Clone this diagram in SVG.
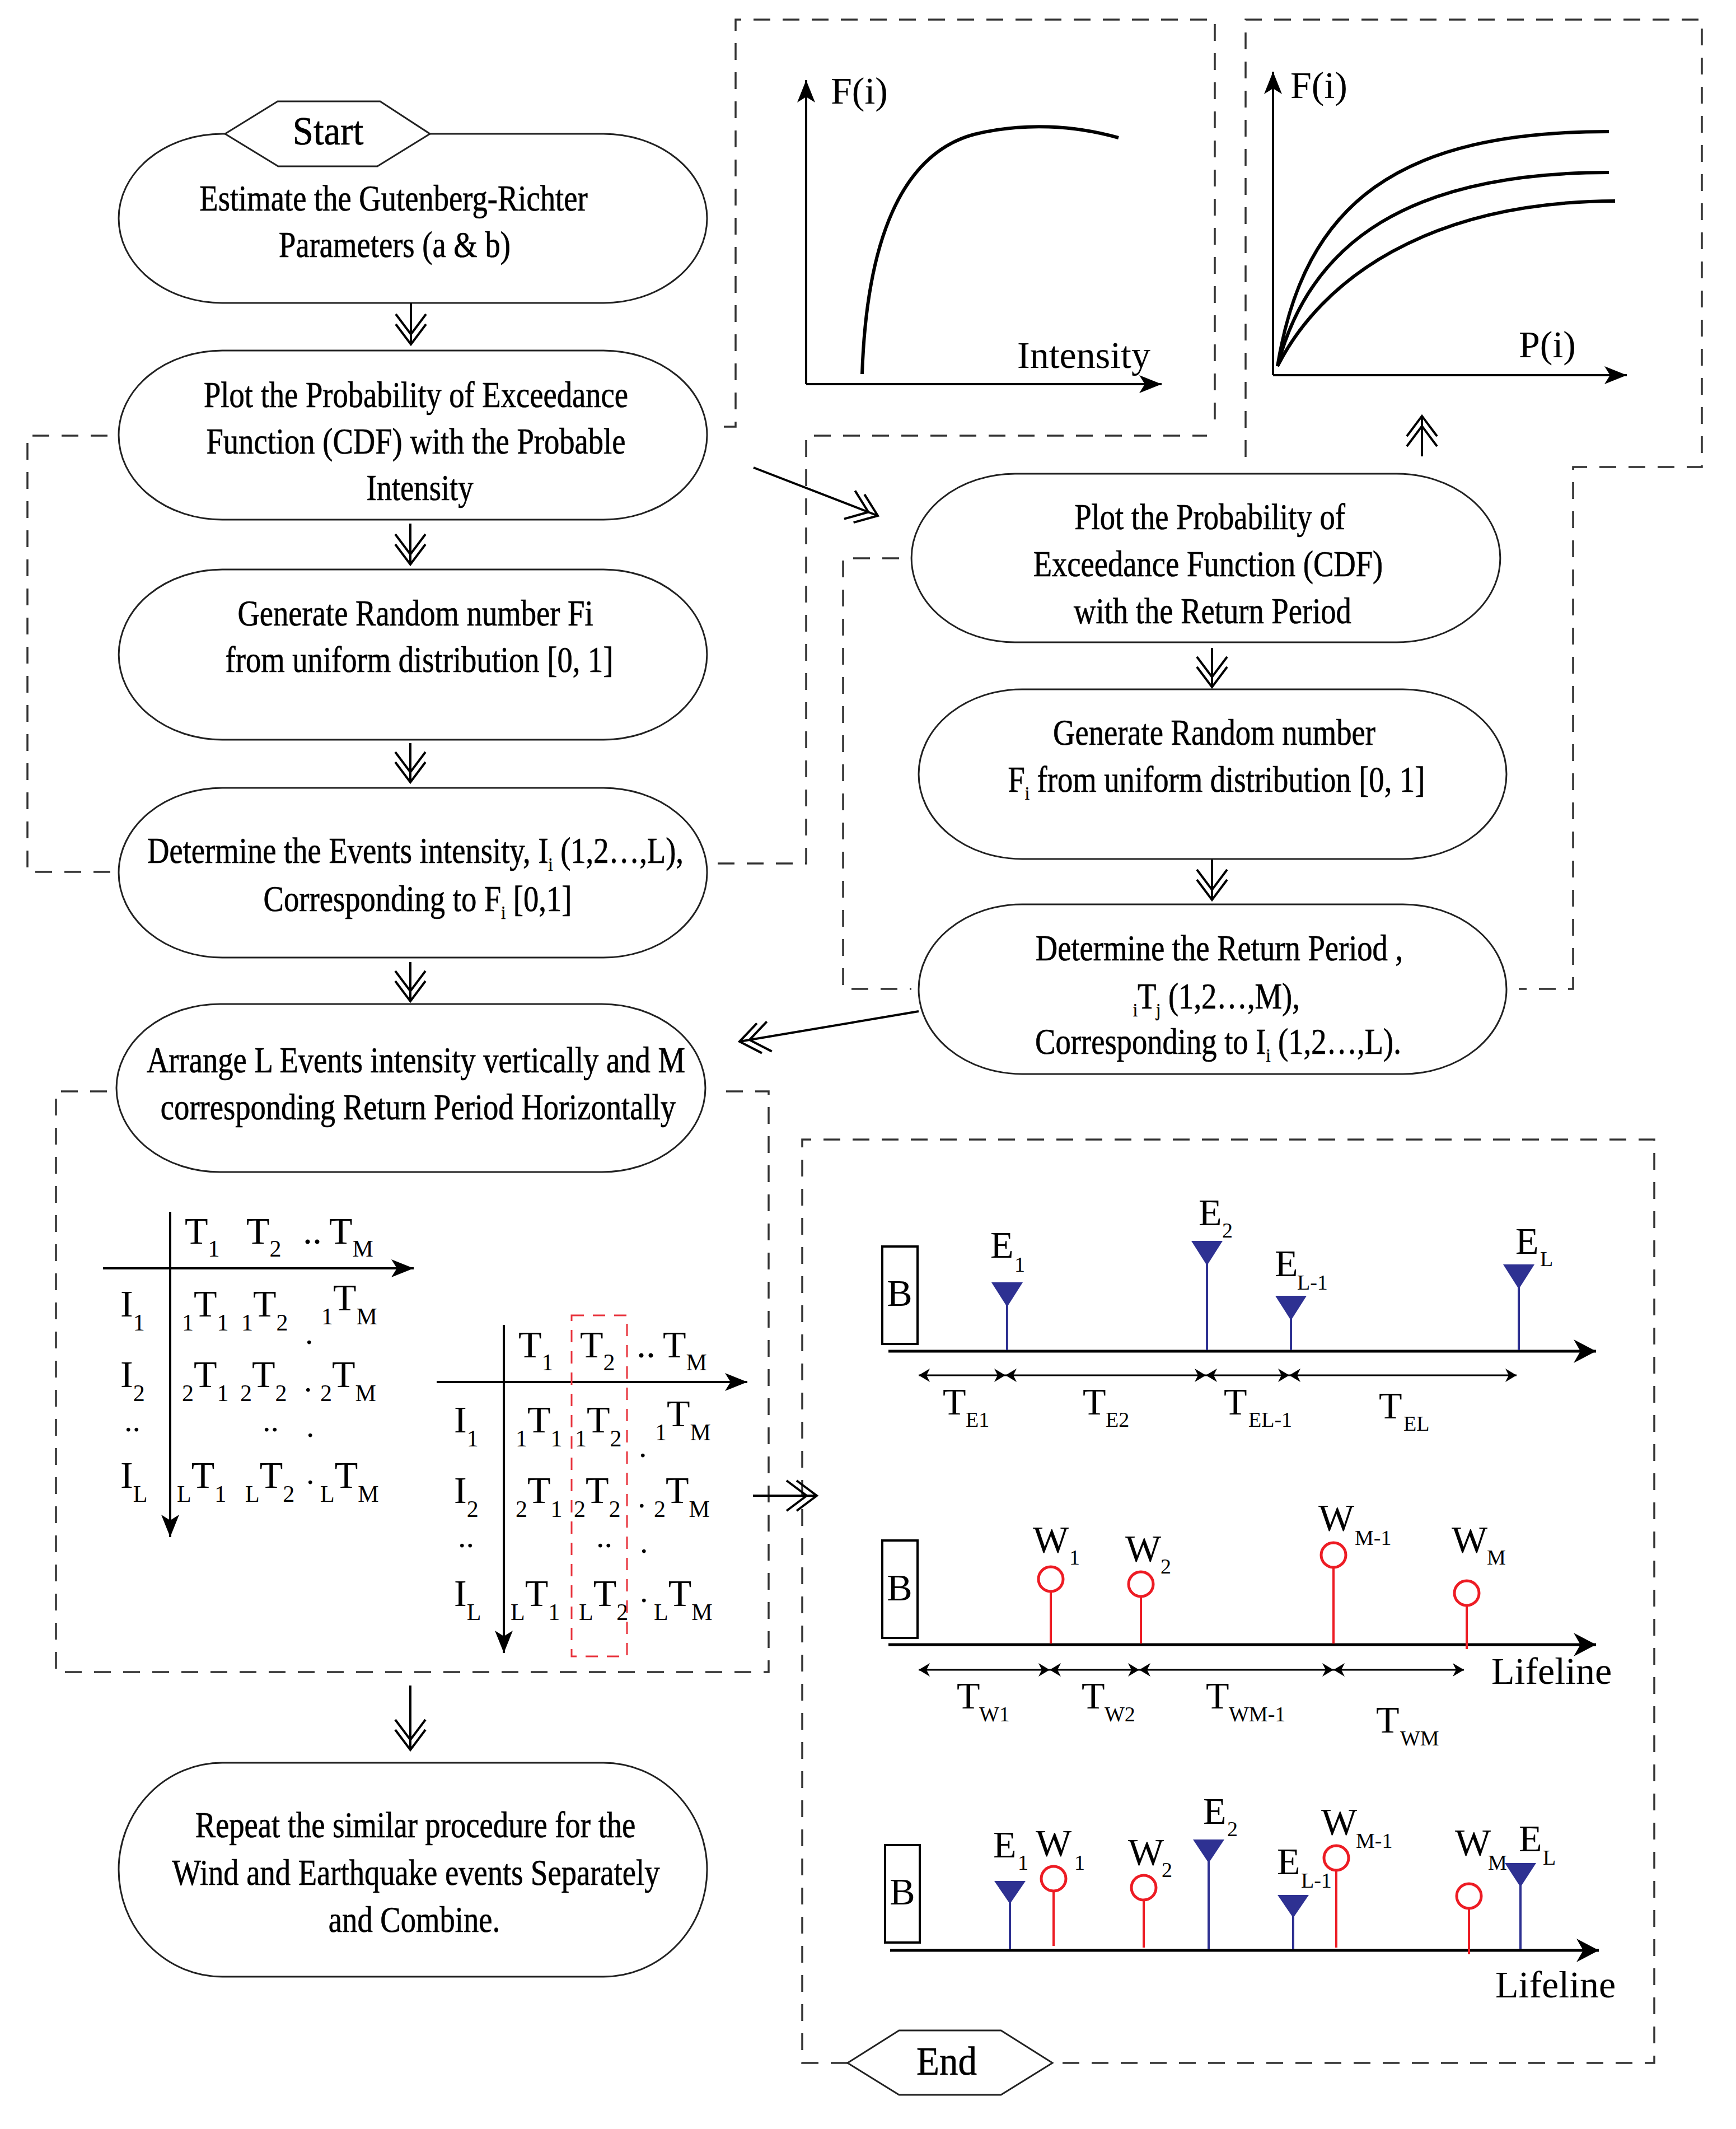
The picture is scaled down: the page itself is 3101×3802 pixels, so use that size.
<svg xmlns="http://www.w3.org/2000/svg" width="3101" height="3802" viewBox="0 0 3101 3802">
<style>
.bg{fill:#fff}
.dash{fill:none;stroke:#333;stroke-width:3.5;stroke-dasharray:30 22}
.rdash{fill:none;stroke:#e8333c;stroke-width:3;stroke-dasharray:22 16}
.node{fill:#fff;stroke:#222;stroke-width:3}
.nt{font-family:"Liberation Serif","Times New Roman",serif;font-size:65px;fill:#000;stroke:#000;stroke-width:0.7}
.ns{font-size:34px}
.ct{font-family:"Liberation Serif","Times New Roman",serif;font-size:68px;fill:#000}
.sb{font-size:42px}
.ts{font-size:38px}
.dt{font-size:58px}
.arr{fill:none;stroke:#000;stroke-width:4;marker-end:url(#dch)}
.axis{fill:none;stroke:#000;stroke-width:4;marker-end:url(#tri)}
.tax{fill:none;stroke:#000;stroke-width:5;marker-end:url(#tri2)}
.iv{fill:none;stroke:#000;stroke-width:3;marker-start:url(#sm);marker-end:url(#sm)}
.curve{fill:none;stroke:#000;stroke-width:6}
.bst{stroke:#2e3192;stroke-width:4}
.btri{fill:#2e3192}
.rst{stroke:#ed1c24;stroke-width:4}
.rc{fill:#fff;stroke:#ed1c24;stroke-width:5}
.bbox{fill:#fff;stroke:#000;stroke-width:4}
</style>
<defs>
<marker id="dch" markerUnits="userSpaceOnUse" orient="auto" refX="0" refY="0" markerWidth="10" markerHeight="10" overflow="visible">
<path d="M-36,-27 L0,0 L-36,27 M-54,-27 L-18,0 L-54,27" fill="none" stroke="#000" stroke-width="4"/>
</marker>
<marker id="tri" markerUnits="userSpaceOnUse" orient="auto" refX="0" refY="0" markerWidth="10" markerHeight="10" overflow="visible">
<path d="M0,0 L-40,-16 L-30,0 L-40,16 Z" fill="#000"/>
</marker>
<marker id="tri2" markerUnits="userSpaceOnUse" orient="auto" refX="0" refY="0" markerWidth="10" markerHeight="10" overflow="visible">
<path d="M0,0 L-40,-21 L-28,0 L-40,21 Z" fill="#000"/>
</marker>
<marker id="sm" markerUnits="userSpaceOnUse" orient="auto-start-reverse" refX="0" refY="0" markerWidth="10" markerHeight="10" overflow="visible">
<path d="M0,0 L-20,-12 L-14,0 L-20,12 Z" fill="#000"/>
</marker>
</defs>
<rect class="bg" x="0" y="0" width="3101" height="3802"/>

<g id="dashed-frames">
<path class="dash" d="M1293,762 H1314 V35 H2170 V762"/>
<path class="dash" d="M192,778 H49 V1557 H210"/>
<path class="dash" d="M1282,1542 H1440 V778 H2156"/>
<path class="dash" d="M2225,816 V35 H3040 V834 H2810 V1766 H2713"/>
<path class="dash" d="M1606,997 H1506 V1766 H1628"/>
<path class="dash" d="M191,1949 H100 V2986 H1373 V1949 H1282"/>
<path class="dash" d="M1514,3684 H1433 V2035 H2955 V3684 H1880"/>
</g>

<g id="chart-intensity">
<path class="axis" d="M1440,686 V143"/>
<path class="axis" d="M1440,686 H2075"/>
<path class="curve" d="M1540,668 C1548,430 1610,275 1740,240 C1830,218 1920,224 1998,246"/>
<text class="ct" x="1484" y="185">F(i)</text>
<text class="ct" x="1817" y="657">Intensity</text>
</g>

<g id="chart-return">
<path class="axis" d="M2274,670 V128"/>
<path class="axis" d="M2274,670 H2906"/>
<path class="curve" d="M2282,654 C2330,360 2500,235 2874,235"/>
<path class="curve" d="M2282,654 C2340,430 2520,308 2874,308"/>
<path class="curve" d="M2282,654 C2360,500 2550,360 2885,359"/>
<text class="ct" x="2305" y="175">F(i)</text>
<text class="ct" x="2713" y="638">P(i)</text>
</g>

<g id="n1">
<path class="node" d="M397,239 H1078 A185,151 0 0 1 1078,541 H397 A185,151 0 0 1 397,239 Z"/>
<text class="nt" text-anchor="middle" transform="translate(703,376) scale(0.84,1)">Estimate the Gutenberg-Richter</text>
<text class="nt" text-anchor="middle" transform="translate(705,459) scale(0.84,1)">Parameters (a &amp; b)</text>
</g>
<g id="start">
<polygon class="node" points="402,239 496,181 679,181 768,239 674,297 497,297"/>
<text class="nt" style="font-size:72px" text-anchor="middle" transform="translate(586,258) scale(0.93,1)">Start</text>
</g>
<g id="n2">
<path class="node" d="M397,626 H1078 A185,151 0 0 1 1078,928 H397 A185,151 0 0 1 397,626 Z"/>
<text class="nt" text-anchor="middle" transform="translate(743,727) scale(0.84,1)">Plot the Probability of Exceedance</text>
<text class="nt" text-anchor="middle" transform="translate(743,810) scale(0.84,1)">Function (CDF) with the Probable</text>
<text class="nt" text-anchor="middle" transform="translate(750,893) scale(0.84,1)">Intensity</text>
</g>
<g id="n3">
<path class="node" d="M397,1017 H1078 A185,152 0 0 1 1078,1321 H397 A185,152 0 0 1 397,1017 Z"/>
<text class="nt" text-anchor="middle" transform="translate(742,1117) scale(0.84,1)">Generate Random number Fi</text>
<text class="nt" text-anchor="middle" transform="translate(749,1200) scale(0.84,1)">from uniform distribution [0, 1]</text>
</g>
<g id="n4">
<path class="node" d="M397,1407 H1078 A185,151.5 0 0 1 1078,1710 H397 A185,151.5 0 0 1 397,1407 Z"/>
<text class="nt" text-anchor="middle" transform="translate(742,1541) scale(0.84,1)">Determine the Events intensity, I<tspan class="ns" dy="14">i</tspan><tspan dy="-14"> (1,2…,L),</tspan></text>
<text class="nt" text-anchor="middle" transform="translate(746,1627) scale(0.84,1)">Corresponding to F<tspan class="ns" dy="14">i</tspan><tspan dy="-14"> [0,1]</tspan></text>
</g>
<g id="n5">
<path class="node" d="M393,1793 H1075 A185,150 0 0 1 1075,2093 H393 A185,150 0 0 1 393,1793 Z"/>
<text class="nt" text-anchor="middle" transform="translate(743,1915) scale(0.84,1)">Arrange L Events intensity vertically and M</text>
<text class="nt" text-anchor="middle" transform="translate(747,1999) scale(0.84,1)">corresponding Return Period Horizontally</text>
</g>
<g id="n6">
<path class="node" d="M397,3148 H1078 A185,191 0 0 1 1078,3530 H397 A185,191 0 0 1 397,3148 Z"/>
<text class="nt" text-anchor="middle" transform="translate(742,3281) scale(0.84,1)">Repeat the similar procedure for the</text>
<text class="nt" text-anchor="middle" transform="translate(743,3366) scale(0.84,1)">Wind and Earthquake events Separately</text>
<text class="nt" text-anchor="middle" transform="translate(740,3450) scale(0.84,1)">and Combine.</text>
</g>
<g id="n7">
<path class="node" d="M1813,846 H2495 A185,150.5 0 0 1 2495,1147 H1813 A185,150.5 0 0 1 1813,846 Z"/>
<text class="nt" text-anchor="middle" transform="translate(2161,945) scale(0.84,1)">Plot the Probability of</text>
<text class="nt" text-anchor="middle" transform="translate(2158,1029) scale(0.84,1)">Exceedance Function (CDF)</text>
<text class="nt" text-anchor="middle" transform="translate(2166,1113) scale(0.84,1)">with the Return Period</text>
</g>
<g id="n8">
<path class="node" d="M1826,1231 H2506 A185,151.5 0 0 1 2506,1534 H1826 A185,151.5 0 0 1 1826,1231 Z"/>
<text class="nt" text-anchor="middle" transform="translate(2169,1330) scale(0.84,1)">Generate Random number</text>
<text class="nt" text-anchor="middle" transform="translate(2173,1414) scale(0.84,1)">F<tspan class="ns" dy="14">i</tspan><tspan dy="-14"> from uniform distribution [0, 1]</tspan></text>
</g>
<g id="n9">
<path class="node" d="M1826,1615 H2506 A185,151.5 0 0 1 2506,1918 H1826 A185,151.5 0 0 1 1826,1615 Z"/>
<text class="nt" text-anchor="middle" transform="translate(2178,1715) scale(0.84,1)">Determine the Return Period ,</text>
<text class="nt" text-anchor="middle" transform="translate(2173,1801) scale(0.84,1)"><tspan class="ns" dy="14">i</tspan><tspan dy="-14">T</tspan><tspan class="ns" dy="14">j</tspan><tspan dy="-14"> (1,2…,M),</tspan></text>
<text class="nt" text-anchor="middle" transform="translate(2176,1882) scale(0.84,1)">Corresponding to I<tspan class="ns" dy="14">i</tspan><tspan dy="-14"> (1,2…,L).</tspan></text>
</g>

<g id="matrix1">
<path class="axis" d="M304,2164 V2745"/>
<path class="axis" d="M184,2265 H739"/>
<g class="ct">
<text x="330" y="2221">T<tspan class="sb" dy="23">1</tspan></text>
<text x="440" y="2221">T<tspan class="sb" dy="23">2</tspan></text>
<text x="541" y="2221">..<tspan x="588">T</tspan><tspan class="sb" dy="23">M</tspan></text>
<text x="215" y="2351">I<tspan class="sb" dy="25">1</tspan></text>
<text x="325" y="2351"><tspan class="sb" dy="25">1</tspan><tspan dy="-25">T</tspan><tspan class="sb" dy="25">1</tspan></text>
<text x="431" y="2351"><tspan class="sb" dy="25">1</tspan><tspan dy="-25">T</tspan><tspan class="sb" dy="25">2</tspan></text>
<text class="dt" x="545" y="2400">.</text>
<text x="574" y="2340"><tspan class="sb" dy="25">1</tspan><tspan dy="-25">T</tspan><tspan class="sb" dy="25">M</tspan></text>
<text x="215" y="2477">I<tspan class="sb" dy="25">2</tspan></text>
<text x="325" y="2477"><tspan class="sb" dy="25">2</tspan><tspan dy="-25">T</tspan><tspan class="sb" dy="25">1</tspan></text>
<text x="429" y="2477"><tspan class="sb" dy="25">2</tspan><tspan dy="-25">T</tspan><tspan class="sb" dy="25">2</tspan></text>
<text class="dt" x="543" y="2485">.</text>
<text x="572" y="2477"><tspan class="sb" dy="25">2</tspan><tspan dy="-25">T</tspan><tspan class="sb" dy="25">M</tspan></text>
<text class="dt" x="222" y="2556">..</text>
<text class="dt" x="469" y="2556">..</text>
<text class="dt" x="547" y="2566">.</text>
<text x="215" y="2657">I<tspan class="sb" dy="25">L</tspan></text>
<text x="316" y="2657"><tspan class="sb" dy="25">L</tspan><tspan dy="-25">T</tspan><tspan class="sb" dy="25">1</tspan></text>
<text x="438" y="2657"><tspan class="sb" dy="25">L</tspan><tspan dy="-25">T</tspan><tspan class="sb" dy="25">2</tspan></text>
<text class="dt" x="547" y="2650">.</text>
<text x="572" y="2657"><tspan class="sb" dy="25">L</tspan><tspan dy="-25">T</tspan><tspan class="sb" dy="25">M</tspan></text>
</g>
</g>

<g id="matrix2" transform="translate(596,205)">
<path class="axis" d="M304,2161 V2747"/>
<path class="axis" d="M184,2263 H739"/>
<g class="ct">
<text x="330" y="2219">T<tspan class="sb" dy="23">1</tspan></text>
<text x="440" y="2219">T<tspan class="sb" dy="23">2</tspan></text>
<text x="541" y="2219">..<tspan x="588">T</tspan><tspan class="sb" dy="23">M</tspan></text>
<text x="215" y="2353">I<tspan class="sb" dy="25">1</tspan></text>
<text x="325" y="2353"><tspan class="sb" dy="25">1</tspan><tspan dy="-25">T</tspan><tspan class="sb" dy="25">1</tspan></text>
<text x="431" y="2353"><tspan class="sb" dy="25">1</tspan><tspan dy="-25">T</tspan><tspan class="sb" dy="25">2</tspan></text>
<text class="dt" x="545" y="2397">.</text>
<text x="574" y="2342"><tspan class="sb" dy="25">1</tspan><tspan dy="-25">T</tspan><tspan class="sb" dy="25">M</tspan></text>
<text x="215" y="2479">I<tspan class="sb" dy="25">2</tspan></text>
<text x="325" y="2479"><tspan class="sb" dy="25">2</tspan><tspan dy="-25">T</tspan><tspan class="sb" dy="25">1</tspan></text>
<text x="429" y="2479"><tspan class="sb" dy="25">2</tspan><tspan dy="-25">T</tspan><tspan class="sb" dy="25">2</tspan></text>
<text class="dt" x="543" y="2487">.</text>
<text x="572" y="2479"><tspan class="sb" dy="25">2</tspan><tspan dy="-25">T</tspan><tspan class="sb" dy="25">M</tspan></text>
<text class="dt" x="222" y="2558">..</text>
<text class="dt" x="469" y="2558">..</text>
<text class="dt" x="547" y="2568">.</text>
<text x="215" y="2663">I<tspan class="sb" dy="25">L</tspan></text>
<text x="316" y="2663"><tspan class="sb" dy="25">L</tspan><tspan dy="-25">T</tspan><tspan class="sb" dy="25">1</tspan></text>
<text x="438" y="2663"><tspan class="sb" dy="25">L</tspan><tspan dy="-25">T</tspan><tspan class="sb" dy="25">2</tspan></text>
<text class="dt" x="547" y="2656">.</text>
<text x="572" y="2663"><tspan class="sb" dy="25">L</tspan><tspan dy="-25">T</tspan><tspan class="sb" dy="25">M</tspan></text>
</g>
<rect class="rdash" x="425" y="2144" width="99" height="609"/>
</g>

<g id="timeline-earthquake">
<rect class="bbox" x="1576" y="2226" width="63" height="174"/>
<text class="ct" x="1607" y="2332" text-anchor="middle">B</text>
<path class="tax" d="M1587,2413 H2851"/>
<line class="bst" x1="1799" y1="2330" x2="1799" y2="2411"/>
<polygon class="btri" points="1771,2290 1827,2290 1799,2334"/>
<line class="bst" x1="2156" y1="2256" x2="2156" y2="2411"/>
<polygon class="btri" points="2128,2216 2184,2216 2156,2260"/>
<line class="bst" x1="2306" y1="2355" x2="2306" y2="2411"/>
<polygon class="btri" points="2278,2314 2334,2314 2306,2358"/>
<line class="bst" x1="2713" y1="2298" x2="2713" y2="2411"/>
<polygon class="btri" points="2685,2258 2741,2258 2713,2302"/>
<g class="ct">
<text x="1769" y="2246">E<tspan class="ts" x="1812" y="2271">1</tspan></text>
<text x="2141" y="2188">E<tspan class="ts" x="2183" y="2210">2</tspan></text>
<text x="2277" y="2279">E<tspan class="ts" x="2317" y="2303">L-1</tspan></text>
<text x="2707" y="2239">E<tspan class="ts" x="2751" y="2261">L</tspan></text>
<text x="1684" y="2526">T<tspan class="ts" x="1725" y="2548">E1</tspan></text>
<text x="1934" y="2526">T<tspan class="ts" x="1975" y="2548">E2</tspan></text>
<text x="2186" y="2526">T<tspan class="ts" x="2230" y="2548">EL-1</tspan></text>
<text x="2463" y="2533">T<tspan class="ts" x="2507" y="2555">EL</tspan></text>
</g>
<path class="iv" d="M1641,2456 H1796"/>
<path class="iv" d="M1796,2456 H2154"/>
<path class="iv" d="M2154,2456 H2303"/>
<path class="iv" d="M2303,2456 H2709"/>
</g>

<g id="timeline-wind">
<rect class="bbox" x="1576" y="2751" width="63" height="174"/>
<text class="ct" x="1607" y="2858" text-anchor="middle">B</text>
<path class="tax" d="M1587,2937 H2851"/>
<line class="rst" x1="1877" y1="2843" x2="1877" y2="2935"/>
<circle class="rc" cx="1877" cy="2820" r="22"/>
<line class="rst" x1="2038" y1="2852" x2="2038" y2="2935"/>
<circle class="rc" cx="2038" cy="2829" r="22"/>
<line class="rst" x1="2382" y1="2800" x2="2382" y2="2935"/>
<circle class="rc" cx="2382" cy="2777" r="22"/>
<line class="rst" x1="2620" y1="2868" x2="2620" y2="2945"/>
<circle class="rc" cx="2620" cy="2845" r="22"/>
<g class="ct">
<text x="1845" y="2772">W<tspan class="ts" x="1910" y="2794">1</tspan></text>
<text x="2010" y="2788">W<tspan class="ts" x="2073" y="2810">2</tspan></text>
<text x="2355" y="2733">W<tspan class="ts" x="2420" y="2759">M-1</tspan></text>
<text x="2593" y="2772">W<tspan class="ts" x="2656" y="2794">M</tspan></text>
<text x="1709" y="3051">T<tspan class="ts" x="1749" y="3074">W1</tspan></text>
<text x="1932" y="3051">T<tspan class="ts" x="1973" y="3074">W2</tspan></text>
<text x="2154" y="3051">T<tspan class="ts" x="2195" y="3074">WM-1</tspan></text>
<text x="2458" y="3094">T<tspan class="ts" x="2501" y="3117">WM</tspan></text>
<text x="2664" y="3007">Lifeline</text>
</g>
<path class="iv" d="M1641,2982 H1875"/>
<path class="iv" d="M1875,2982 H2035"/>
<path class="iv" d="M2035,2982 H2382"/>
<path class="iv" d="M2382,2982 H2615"/>
</g>

<g id="timeline-combined">
<rect class="bbox" x="1581" y="3295" width="62" height="174"/>
<text class="ct" x="1612" y="3401" text-anchor="middle">B</text>
<path class="tax" d="M1590,3483 H2856"/>
<line class="bst" x1="1804" y1="3396" x2="1804" y2="3481"/>
<polygon class="btri" points="1776,3359 1832,3359 1804,3400"/>
<line class="rst" x1="1882" y1="3378" x2="1882" y2="3475"/>
<circle class="rc" cx="1882" cy="3355" r="22"/>
<line class="rst" x1="2043" y1="3394" x2="2043" y2="3478"/>
<circle class="rc" cx="2043" cy="3371" r="22"/>
<line class="bst" x1="2159" y1="3323" x2="2159" y2="3481"/>
<polygon class="btri" points="2131,3285 2187,3285 2159,3327"/>
<line class="bst" x1="2310" y1="3421" x2="2310" y2="3481"/>
<polygon class="btri" points="2282,3384 2338,3384 2310,3425"/>
<line class="rst" x1="2387" y1="3341" x2="2387" y2="3478"/>
<circle class="rc" cx="2387" cy="3318" r="22"/>
<line class="rst" x1="2624" y1="3409" x2="2624" y2="3490"/>
<circle class="rc" cx="2624" cy="3386" r="22"/>
<line class="bst" x1="2716" y1="3366" x2="2716" y2="3481"/>
<polygon class="btri" points="2688,3327 2744,3327 2716,3370"/>
<g class="ct">
<text x="1774" y="3317">E<tspan class="ts" x="1818" y="3339">1</tspan></text>
<text x="1850" y="3314">W<tspan class="ts" x="1919" y="3339">1</tspan></text>
<text x="2015" y="3330">W<tspan class="ts" x="2075" y="3352">2</tspan></text>
<text x="2149" y="3257">E<tspan class="ts" x="2192" y="3279">2</tspan></text>
<text x="2281" y="3347">E<tspan class="ts" x="2324" y="3371">L-1</tspan></text>
<text x="2360" y="3276">W<tspan class="ts" x="2422" y="3300">M-1</tspan></text>
<text x="2599" y="3313">W<tspan class="ts" x="2658" y="3339">M</tspan></text>
<text x="2713" y="3306">E<tspan class="ts" x="2756" y="3330">L</tspan></text>
<text x="2671" y="3567">Lifeline</text>
</g>
</g>

<g id="end">
<polygon class="node" points="1514,3684 1606,3626 1788,3626 1880,3684 1788,3741 1606,3741"/>
<text class="nt" style="font-size:72px" text-anchor="middle" transform="translate(1691,3705) scale(0.93,1)">End</text>
</g>

<g id="connectors">
<path class="arr" d="M734,541 V615"/>
<path class="arr" d="M733,935 V1008"/>
<path class="arr" d="M733,1327 V1397"/>
<path class="arr" d="M733,1718 V1788"/>
<path class="arr" d="M733,3010 V3125"/>
<path class="arr" d="M2165,1157 V1227"/>
<path class="arr" d="M2165,1535 V1607"/>
<path class="arr" d="M2540,815 V743"/>
<path class="arr" d="M1346,835 L1568,921"/>
<path class="arr" d="M1641,1806 L1321,1860"/>
<path class="arr" d="M1345,2671 H1459"/>
</g>
</svg>
